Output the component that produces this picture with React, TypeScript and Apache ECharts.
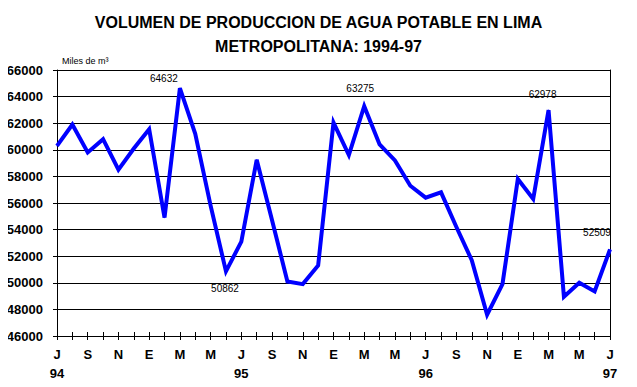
import React, { useEffect, useRef } from "react";
import * as echarts from "echarts";

const months = ["J","A","S","O","N","D","E","F","M","A","M","J","J","A","S","O","N","D","E","F","M","A","M","J","J","A","S","O","N","D","E","F","M","A","M","J","J"];
const yearLabels: Record<number, string> = { 0: "94", 12: "95", 24: "96", 36: "97" };
const production = [
  60300, 61900, 59800, 60800, 58500, 60100, 61550, 54900, 64632, 61200,
  55800, 50862, 53100, 59250, 54700, 50100, 49900, 51300, 62050, 59600,
  63275, 60400, 59200, 57300, 56400, 56800, 54200, 51700, 47600, 49900,
  57800, 56300, 62978, 48950, 50000, 49350, 52509,
];
const labelledPoints = [8, 11, 20, 32, 36];
const title = "VOLUMEN DE PRODUCCION DE AGUA POTABLE EN LIMA\nMETROPOLITANA: 1994-97";
const unitText = "Miles de m³";

export default function App() {
  const ref = useRef<HTMLDivElement>(null);
  useEffect(() => {
    if (!ref.current) return;
    const chart = echarts.init(ref.current, null, { renderer: "svg" });
    const labelStyle: Record<number, any> = {
      8: { position: "top", distance: 4, offset: [-16, 0] },
      11: { position: "bottom", distance: 12, offset: [-1, 0] },
      20: { position: "top", distance: 12, offset: [-4, 0] },
      32: { position: "top", distance: 10, offset: [-6, 0] },
      36: { position: "top", distance: 11, offset: [-13, 0] },
    };
    const data = production.map((v, i) =>
      labelledPoints.includes(i)
        ? {
            value: v,
            label: {
              show: true,
              formatter: String(v),
              fontFamily: "Liberation Sans, Arial, sans-serif",
              fontSize: 10,
              color: "#000",
              ...labelStyle[i],
            },
          }
        : v
    );
    const cats = production.map((_, i) => String(i));
    const xLabel = (val: string, idx: number) => {
      const m = months[idx];
      return yearLabels[idx] ? m + "\n" + yearLabels[idx] : m;
    };
    chart.setOption({
      animation: false,
      backgroundColor: "#fff",
      title: {
        text: title,
        left: "center",
        top: 5,
        textStyle: {
          fontFamily: "Liberation Sans, Arial, sans-serif",
          fontSize: 16,
          fontWeight: "bold",
          color: "#000",
          lineHeight: 24,
        },
      },
      graphic: [
        {
          type: "text",
          left: 62,
          top: 56,
          style: {
            text: unitText,
            fontFamily: "Liberation Sans, Arial, sans-serif",
            fontSize: 9,
            fill: "#000",
          },
        },
      ],
      grid: { left: 57, right: 27, top: 70, bottom: 51, containLabel: false },
      xAxis: [
        {
          type: "category",
          data: cats,
          boundaryGap: false,
          axisLine: { lineStyle: { color: "#000", width: 1 } },
          axisTick: { show: true, inside: false, length: 4, interval: 0, lineStyle: { color: "#000" } },
          axisLabel: {
            interval: 1,
            formatter: xLabel,
            fontFamily: "Liberation Sans, Arial, sans-serif",
            fontSize: 13,
            fontWeight: "bold",
            color: "#000",
            margin: 9,
            lineHeight: 19,
            verticalAlign: "top",
          },
          splitLine: { show: false },
        },
        {
          type: "category",
          data: cats,
          boundaryGap: false,
          position: "bottom",
          axisLine: { show: false },
          axisTick: { show: true, inside: true, length: 4, interval: 0, lineStyle: { color: "#000" } },
          axisLabel: { show: false },
          splitLine: { show: false },
        },
      ],
      yAxis: [
        {
          type: "value",
          min: 46000,
          max: 66000,
          interval: 2000,
          axisLine: { show: true, lineStyle: { color: "#000", width: 1 } },
          axisTick: { show: true, length: 4, lineStyle: { color: "#000" } },
          axisLabel: {
            formatter: (v: number) => String(v),
            fontFamily: "Liberation Sans, Arial, sans-serif",
            fontSize: 13,
            fontWeight: "bold",
            color: "#000",
            margin: 14,
          },
          splitLine: { show: true, lineStyle: { color: "#000", width: 1 } },
        },
        {
          type: "value",
          min: 46000,
          max: 66000,
          interval: 2000,
          position: "right",
          axisLine: { show: true, lineStyle: { color: "#000", width: 1 } },
          axisTick: { show: false },
          axisLabel: { show: false },
          splitLine: { show: false },
        },
      ],
      series: [
        {
          type: "line",
          data,
          xAxisIndex: 0,
          yAxisIndex: 0,
          symbol: "circle",
          symbolSize: 1,
          showSymbol: true,
          lineStyle: { color: "#0000ff", width: 4, join: "miter" },
          itemStyle: { color: "#0000ff" },
        },
      ],
    });
    return () => chart.dispose();
  }, []);
  return <div ref={ref} style={{ width: 637, height: 387, margin: -8 }} />;
}
